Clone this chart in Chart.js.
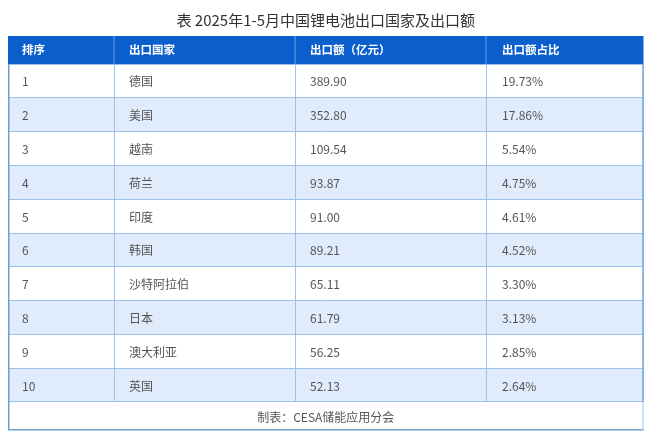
<!DOCTYPE html>
<html>
<head>
<meta charset="utf-8">
<style>
  html, body { margin: 0; padding: 0; background: #fff; }
  canvas { display: block; }
</style>
<script src="https://cdn.jsdelivr.net/npm/chart.js@4/dist/chart.umd.js"></script>
</head>
<body>
<canvas id="myChart" width="660" height="436"></canvas>
<script>
const titleText = "表 2025年1-5月中国锂电池出口国家及出口额";
const footerText = "制表：CESA储能应用分会";
const headers = ["排序", "出口国家", "出口额（亿元）", "出口额占比"];
const ranks = ["1", "2", "3", "4", "5", "6", "7", "8", "9", "10"];
const countries = ["德国", "美国", "越南", "荷兰", "印度", "韩国", "沙特阿拉伯", "日本", "澳大利亚", "英国"];
const amounts = ["389.90", "352.80", "109.54", "93.87", "91.00", "89.21", "65.11", "61.79", "56.25", "52.13"];
const shares = ["19.73%", "17.86%", "5.54%", "4.75%", "4.61%", "4.52%", "3.30%", "3.13%", "2.85%", "2.64%"];

// column edges in x-scale units, the table is 635.5 wide
const columnEdges = [0, 106, 287, 478, 635.5];
const cellPads = [14, 15, 15, 16];
const headerHeight = 28;
const footerHeight = 28;
const fontName = '"Noto Sans CJK SC", "Noto Sans", sans-serif';
const lineColor = "#9cc2ea";
const edgeColor = "#6e9fd3";

const tablePlugin = {
  id: "tablePlugin",
  afterDraw(chart) {
    const ctx = chart.ctx;
    const x = chart.scales.x;
    const y = chart.scales.y;
    const area = chart.chartArea;
    const columns = [ranks, countries, amounts, shares];
    const left = x.getPixelForValue(0);
    const right = x.getPixelForValue(columnEdges[columnEdges.length - 1]);

    ctx.save();
    // header band
    ctx.fillStyle = "#0a5fcd";
    ctx.fillRect(left, area.top - headerHeight, right - left, headerHeight);
    ctx.fillStyle = "#6fa3e3";
    columnEdges.slice(1, -1).forEach((edge) => {
      ctx.fillRect(x.getPixelForValue(edge) - 0.5, area.top - headerHeight, 1, headerHeight);
    });

    // outer border with the footer box
    ctx.fillStyle = lineColor;
    ctx.fillRect(right - 1, area.top, 1, area.bottom - area.top + footerHeight);
    ctx.fillStyle = edgeColor;
    ctx.fillRect(left, area.top, 1.5, area.bottom - area.top + footerHeight);
    ctx.fillRect(left, area.bottom + footerHeight - 1, right - left, 1.5);
    ctx.fillRect(right - 1, area.top, 1, area.bottom - area.top);

    // header text
    ctx.textBaseline = "middle";
    ctx.textAlign = "left";
    ctx.fillStyle = "#ffffff";
    ctx.font = "bold 11.5px " + fontName;
    headers.forEach((text, c) => {
      ctx.fillText(text, x.getPixelForValue(columnEdges[c]) + cellPads[c], area.top - headerHeight / 2);
    });

    // body cells
    ctx.fillStyle = "#555555";
    ctx.font = "12px " + fontName;
    columns.forEach((values, c) => {
      values.forEach((text, r) => {
        ctx.fillText(text, x.getPixelForValue(columnEdges[c]) + cellPads[c], y.getPixelForValue(r) + 1);
      });
    });

    // footer
    ctx.textAlign = "center";
    ctx.fillText(footerText, (left + right) / 2, area.bottom + footerHeight / 2 + 1);
    ctx.restore();
  }
};

new Chart(document.getElementById("myChart"), {
  type: "bar",
  data: {
    labels: ranks,
    datasets: [{
      // every second row gets the pale stripe
      data: ranks.map((r, i) => (i % 2 === 1 ? [0, columnEdges[columnEdges.length - 1]] : null)),
      backgroundColor: "#e0ecfb",
      barPercentage: 1,
      categoryPercentage: 1
    }]
  },
  options: {
    indexAxis: "y",
    responsive: false,
    animation: false,
    layout: { padding: { left: 8, right: 16.5, top: 11, bottom: 34 } },
    plugins: {
      legend: { display: false },
      tooltip: { enabled: false },
      title: {
        display: true,
        text: titleText,
        color: "#333333",
        font: { family: fontName, size: 15, weight: "normal" },
        padding: { top: 0, bottom: 35 }
      }
    },
    scales: {
      x: {
        type: "linear",
        min: 0,
        max: columnEdges[columnEdges.length - 1],
        afterBuildTicks(axis) {
          axis.ticks = columnEdges.map((value) => ({ value }));
        },
        ticks: { display: false },
        border: { display: false },
        grid: { color: lineColor, drawTicks: false, z: 1 }
      },
      y: {
        ticks: { display: false },
        border: { display: false },
        grid: { color: lineColor, drawTicks: false, z: 1 }
      }
    }
  },
  plugins: [tablePlugin]
});
</script>
</body>
</html>
